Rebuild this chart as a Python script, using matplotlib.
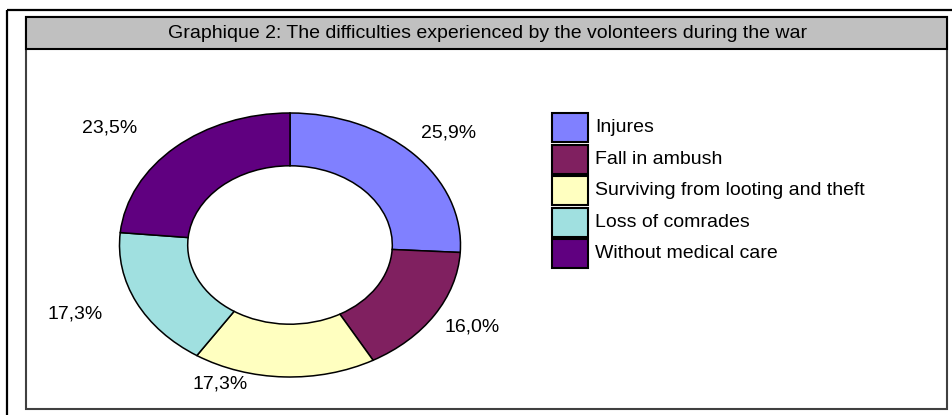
import matplotlib
matplotlib.use('Agg')
import matplotlib.pyplot as plt
from matplotlib.patches import Rectangle

plt.rcParams['font.family'] = ['Liberation Sans', 'DejaVu Sans']

# Data
categories = ['Injures', 'Fall in ambush', 'Surviving from looting and theft',
              'Loss of comrades', 'Without medical care']
values = [25.9, 16.0, 17.3, 17.3, 23.5]
pct_labels = ['25,9%', '16,0%', '17,3%', '17,3%', '23,5%']
colors = ['#8080FF', '#802060', '#FFFFC0', '#A0E0E0', '#600080']

title = 'Graphique 2: The difficulties experienced by the volonteers during the war'

W, H = 953, 415
fs = 14
fig = plt.figure(figsize=(W / 100, H / 100), dpi=100)

# overlay in pixel coordinates for frames, title band, legend
bg = fig.add_axes([0, 0, 1, 1])
bg.set_xlim(0, W)
bg.set_ylim(H, 0)
bg.axis('off')

# outer frame (top + left lines only visible)
bg.plot([7.5, W], [10, 10], color='black', lw=1.6, solid_capstyle='butt')
bg.plot([7.5, 7.5], [10, H], color='black', lw=1.6, solid_capstyle='butt')

# inner chart box
bg.add_patch(Rectangle((26, 17), 921, 392, facecolor='white', edgecolor='#404040', lw=1.5))
# title band
bg.add_patch(Rectangle((26, 17), 921, 32, facecolor='#C0C0C0', edgecolor='black', lw=1.5))
bg.text(488, 33, title, ha='center', va='center', fontsize=fs)

# legend, drawn by hand
for i, (cat, col) in enumerate(zip(categories, colors)):
    y0 = 113 + i * 31.6
    bg.add_patch(Rectangle((552, y0), 36, 29, facecolor=col, edgecolor='black', lw=1.5))
    bg.text(595, y0 + 14.5, cat, ha='left', va='center', fontsize=fs)

# donut
cx, cy, rx, ry = 290, 245, 170.5, 132
lim = 1.05
ax = fig.add_axes([(cx - lim * rx) / W, (H - (cy + lim * ry)) / H,
                   2 * lim * rx / W, 2 * lim * ry / H])
wedges, _ = ax.pie(values, colors=colors, startangle=90, counterclock=False,
                   wedgeprops=dict(width=0.4, edgecolor='black', linewidth=1.1))
ax.set_aspect('auto')
ax.set_xlim(-lim, lim)
ax.set_ylim(-lim, lim)
ax.axis('off')

# label positions (data units of the donut axes)
label_pos = [(0.93, 0.85), (1.07, -0.62), (-0.41, -1.05), (-1.26, -0.52), (-1.06, 0.89)]
for txt, (lx, ly) in zip(pct_labels, label_pos):
    ax.text(lx, ly, txt, ha='center', va='center', fontsize=fs)

fig.savefig('out.png', dpi=100)
